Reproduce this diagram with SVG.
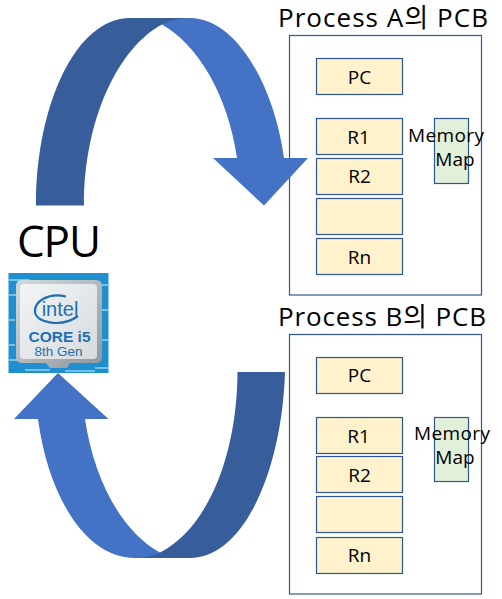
<svg xmlns="http://www.w3.org/2000/svg" width="502" height="599" viewBox="0 0 502 599">
<style>
text{font-family:"Open Sans","Noto Sans CJK KR",sans-serif;fill:#000}
.t{font-size:26px}
.l{font-size:19px;text-anchor:middle}
.box{fill:#fff;stroke:#2f5597;stroke-width:1.2}
.reg{fill:#fff2cc;stroke:#2f5597;stroke-width:1.2}
.map{fill:#e2efd9;stroke:#2f5597;stroke-width:1.2}
.dark{fill:#385d9b}
.light{fill:#4472c4}
.chip{font-family:"Liberation Sans",sans-serif;text-anchor:middle;font-weight:bold}
</style>
<defs>
<linearGradient id="silver" x1="0" y1="0" x2="1" y2="1"><stop offset="0" stop-color="#f2f4f5"/><stop offset="1" stop-color="#d6dbde"/></linearGradient>
<linearGradient id="rim" x1="0" y1="0" x2="1" y2="1"><stop offset="0" stop-color="#d5d9dc"/><stop offset="1" stop-color="#8f979c"/></linearGradient>
</defs>
<g id="process-a">
<text class="t" x="278" y="27" textLength="210" lengthAdjust="spacing">Process A의 PCB</text>
<rect class="box" x="289.500" y="35.500" width="192" height="259.500"/>
<g id="a-pc"><rect class="reg" x="316.500" y="58.500" width="86" height="36"/><text class="l" x="359.500" y="84">PC</text></g>
<g id="a-r1"><rect class="reg" x="316.500" y="118.500" width="86" height="36"/><text class="l" x="358.500" y="144">R1</text></g>
<g id="a-r2"><rect class="reg" x="316.500" y="158.500" width="86" height="36"/><text class="l" x="359.500" y="183">R2</text></g>
<g id="a-blank"><rect class="reg" x="316.500" y="198.500" width="86" height="36"/></g>
<g id="a-rn"><rect class="reg" x="316.500" y="238.500" width="86" height="36"/><text class="l" x="359.500" y="264">Rn</text></g>
<g id="a-map"><rect class="map" x="434.500" y="118.500" width="34" height="65"/><text class="l" x="446" y="142" textLength="76" lengthAdjust="spacing">Memory</text><text class="l" x="455" y="166">Map</text></g>
</g>
<g id="process-b">
<text class="t" x="278" y="326" textLength="208" lengthAdjust="spacing">Process B의 PCB</text>
<rect class="box" x="289.500" y="334.500" width="192" height="259.500"/>
<g id="b-pc"><rect class="reg" x="316.500" y="357.500" width="86" height="36"/><text class="l" x="359.500" y="382">PC</text></g>
<g id="b-r1"><rect class="reg" x="316.500" y="417.500" width="86" height="36"/><text class="l" x="358.500" y="443">R1</text></g>
<g id="b-r2"><rect class="reg" x="316.500" y="456.500" width="86" height="36"/><text class="l" x="359.500" y="482">R2</text></g>
<g id="b-blank"><rect class="reg" x="316.500" y="496.500" width="86" height="36"/></g>
<g id="b-rn"><rect class="reg" x="316.500" y="537.500" width="86" height="36"/><text class="l" x="359.500" y="562">Rn</text></g>
<g id="b-map"><rect class="map" x="434.500" y="417.500" width="34" height="64"/><text class="l" x="452" y="440" textLength="76" lengthAdjust="spacing">Memory</text><text class="l" x="455" y="464">Map</text></g>
</g>
<g id="connectors">
<path class="dark" d="M36 205.500C36 105 76 18 130 18H190L162 24.500C118 48 84 120 84 205.500Z"/>
<path class="light" d="M162 24.500C170 20 180 18 190 18C236 18 274 85 284 158H308L264 205.500L213 158H237C228 95 198 45 162 24.500Z"/>
<path class="dark" d="M237.500 372H285C282 470 244 558 190 558H135L160 552.500C205 530 237 460 237.500 372Z"/>
<path class="light" d="M160 552.500C152 556 145 558 135 558C85 558 48 495 38 419H14L58 373L108.500 419H85C94 480 122 532 160 552.500Z"/>
</g>
<g id="cpu">
<text x="17" y="257" font-size="44" textLength="84" lengthAdjust="spacing">CPU</text>
<rect x="8.500" y="273" width="100" height="100" fill="#1f8fd0"/>
<path d="M8.500 280H30M8.500 295H16M8.500 320H15M8.500 345H15M8.500 360H30M100 285H108M100 310H108M102 340H108M95 368H108M25 370H50M65 371H95" stroke="#8fd3f2" stroke-width="1.500" fill="none"/>
<path d="M22 280H96Q102 280 102 286V357Q102 363 96 363H70L67 368H50L46 363H22Q16 363 16 357V286Q16 280 22 280Z" fill="url(#rim)"/>
<rect x="20" y="284" width="77" height="75" rx="4" fill="url(#silver)"/>
<path d="M66 296.500C48 292 34 302 35 312C36 323 62 328 78 316" fill="none" stroke="#1f6fb5" stroke-width="2.200"/>
<text class="chip" x="60" y="316" font-size="20" style="fill:#1f6fb5;font-weight:normal">intel</text>
<text class="chip" x="59.500" y="342" font-size="15.500" style="fill:#1f6fb5">CORE i5</text>
<text class="chip" x="58.500" y="356" font-size="13.500" style="fill:#2b6ba8;font-weight:normal">8th Gen</text>
</g>
</svg>
